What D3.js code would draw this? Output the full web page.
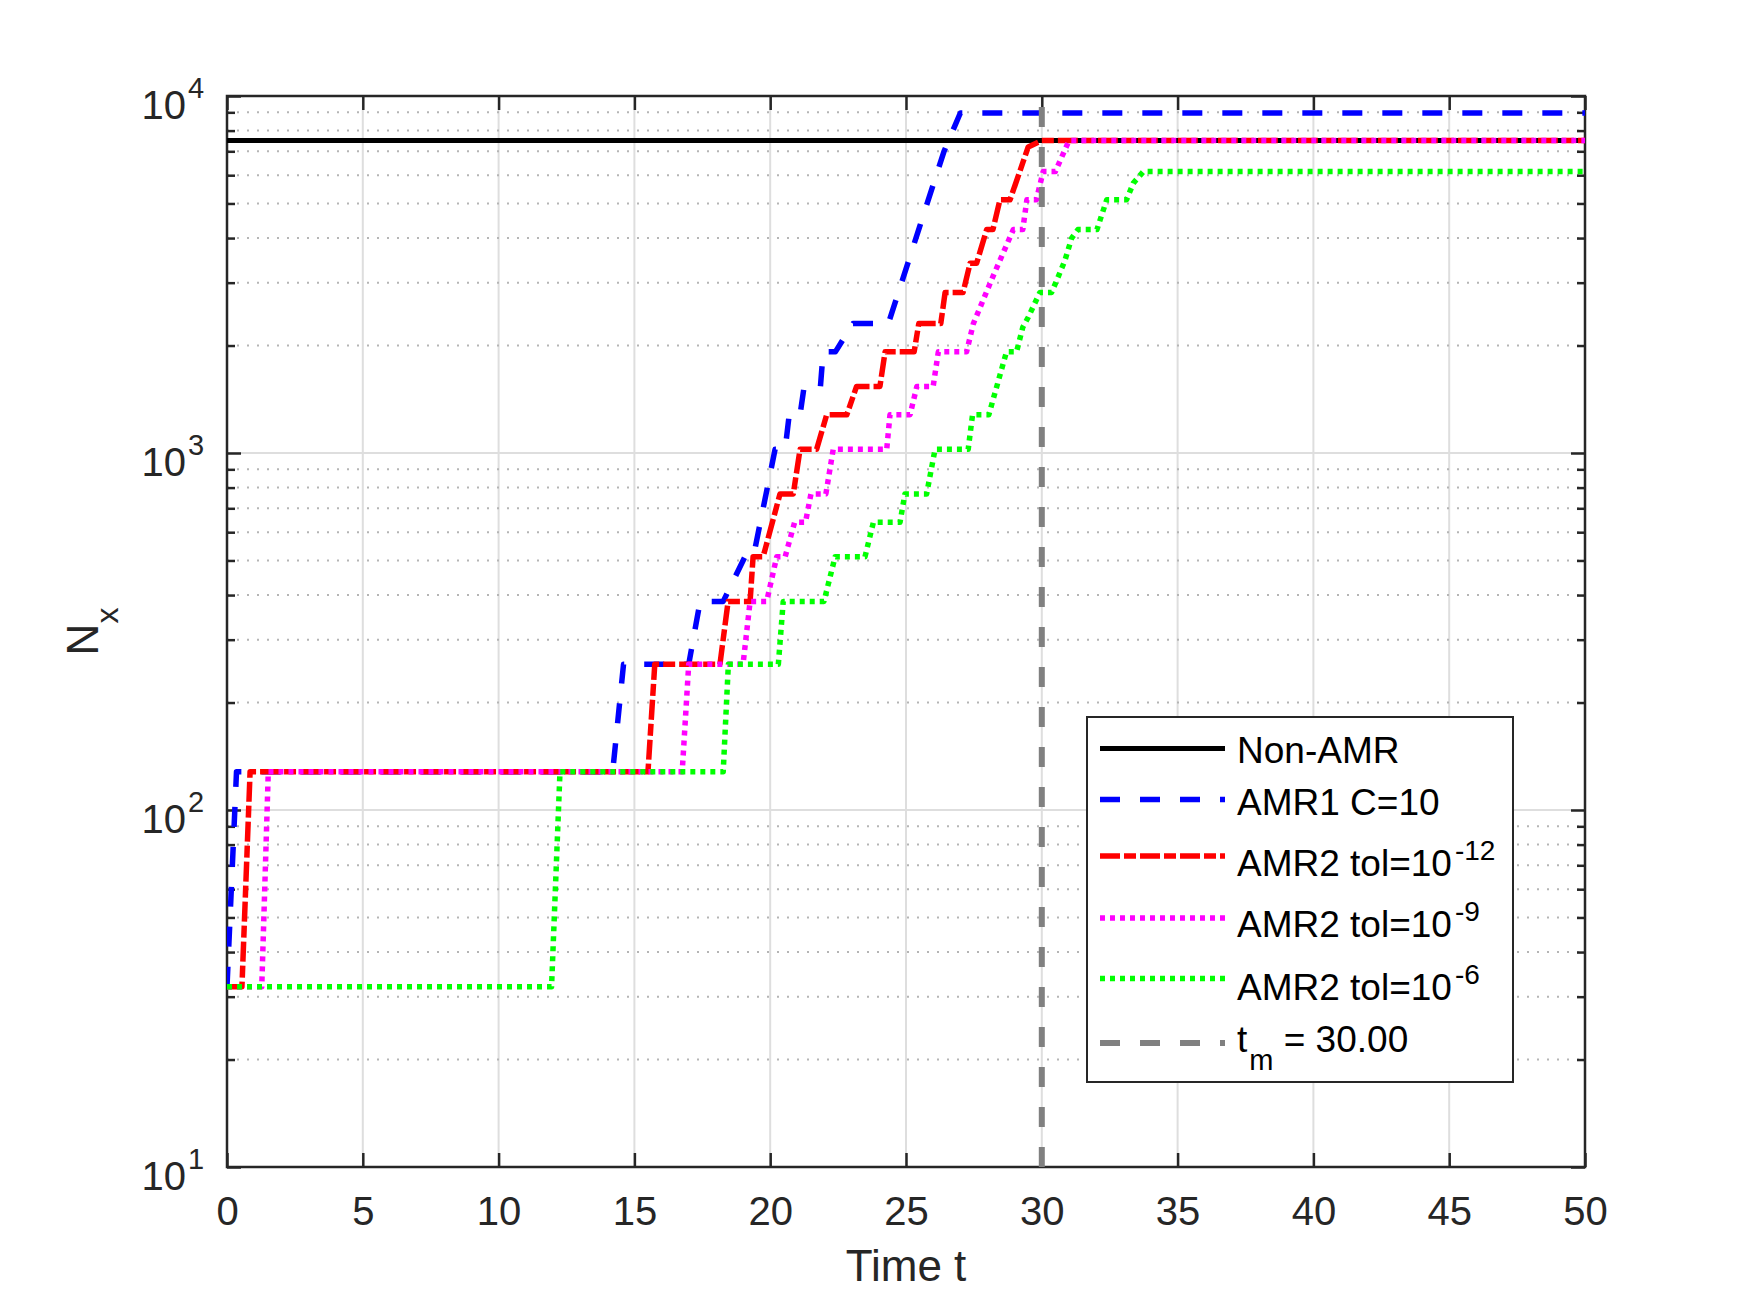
<!DOCTYPE html>
<meta charset="utf-8">
<head>
  <title>Nx vs time</title>
  <script src="https://cdn.jsdelivr.net/npm/d3@7"></script>
  <style>
    body { margin: 0; background: #fff; }
    svg { display: block; font-family: "Liberation Sans", Arial, sans-serif; }
  </style>
</head>
<body>
<div id="chart"></div>
<script>

// ---- data ----
var tNonAmr = [0, 50];
var nNonAmr = [7500, 7500];

var tAmr1 = [0, 0.35, 14.2, 14.6, 17.0, 17.42, 18.27, 19.07, 19.38, 20.18, 20.55, 20.7, 21.1, 21.25, 21.85, 21.95, 22.4, 23.05, 24.35, 25.5, 26.4, 27.0, 50];
var nAmr1 = [32, 128, 128, 256, 256, 384, 384, 512, 512, 1024, 1024, 1280, 1280, 1536, 1536, 1920, 1920, 2304, 2304, 4300, 7000, 8960, 8960];

var tTol12 = [0, 0.55, 0.85, 15.5, 15.75, 18.15, 18.45, 19.26, 19.37, 19.74, 20.36, 20.85, 21.1, 21.71, 22.08, 22.82, 23.18, 24.04, 24.23, 25.3, 25.47, 26.28, 26.44, 27.1, 27.36, 27.6, 27.97, 28.2, 28.46, 28.83, 29.5, 30.0, 50];
var nTol12 = [32, 32, 128, 128, 256, 256, 384, 384, 512, 512, 768, 768, 1024, 1024, 1280, 1280, 1536, 1536, 1920, 1920, 2304, 2304, 2816, 2816, 3400, 3400, 4224, 4224, 5120, 5120, 7200, 7500, 7500];

var tTol9 = [0, 1.28, 1.52, 16.76, 17.0, 19.0, 19.26, 19.87, 20.24, 20.55, 20.9, 21.3, 21.5, 22.05, 22.32, 24.29, 24.41, 25.15, 25.4, 26.0, 26.19, 27.23, 27.48, 28.2, 28.95, 29.3, 29.45, 29.8, 30.05, 30.5, 31.0, 50];
var nTol9 = [32, 32, 128, 128, 256, 256, 384, 384, 512, 512, 640, 640, 768, 768, 1024, 1024, 1280, 1280, 1536, 1536, 1920, 1920, 2304, 3120, 4224, 4224, 5120, 5120, 6144, 6144, 7500, 7500];

var tTol6 = [0, 11.95, 12.26, 18.27, 18.46, 20.3, 20.48, 21.98, 22.39, 23.49, 23.8, 24.78, 24.96, 25.76, 26.07, 27.29, 27.45, 28.05, 28.7, 29.07, 29.3, 29.5, 29.93, 30.36, 30.6, 30.85, 31.1, 31.33, 32.03, 32.39, 33.12, 33.37, 33.74, 50];
var nTol6 = [32, 32, 128, 128, 256, 256, 384, 384, 512, 512, 640, 640, 768, 768, 1024, 1024, 1280, 1280, 1920, 1920, 2250, 2400, 2816, 2816, 3110, 3460, 4000, 4224, 4224, 5120, 5120, 5700, 6144, 6144];

var tMerge = 30;

var xTicks = [0, 5, 10, 15, 20, 25, 30, 35, 40, 45, 50];
var yMajor = [10, 100, 1000, 10000];
var yMinor = [20, 30, 40, 50, 60, 70, 80, 90, 200, 300, 400, 500, 600, 700, 800, 900,
              2000, 3000, 4000, 5000, 6000, 7000, 8000, 9000];

var seriesNames = ["Non-AMR", "AMR1 C=10", "AMR2 tol=10", "AMR2 tol=10", "AMR2 tol=10", "t"];
var seriesSup = ["", "", "-12", "-9", "-6", ""];

// ---- layout ----
var margin = {top: 96, right: 165, bottom: 122, left: 227},
    width = 1750 - margin.left - margin.right,
    height = 1289 - margin.top - margin.bottom;

var svg = d3.select("#chart")
  .append("svg")
    .attr("width", 1750)
    .attr("height", 1289);

var g = svg.append("g")
    .attr("transform", "translate(" + margin.left + "," + margin.top + ")");

var x = d3.scaleLinear().domain([0, 50]).range([0, width]);
var y = d3.scaleLog().domain([10, 10000]).range([height, 0]);

var axisColor = "#262626";

// grid
g.selectAll(".vgrid")
  .data(xTicks.slice(1, -1))
  .enter().append("line")
    .attr("x1", d => x(d)).attr("x2", d => x(d))
    .attr("y1", 0).attr("y2", height)
    .attr("stroke", "#dedede").attr("stroke-width", 2);

g.selectAll(".hminor")
  .data(yMinor)
  .enter().append("line")
    .attr("x1", 0).attr("x2", width)
    .attr("y1", d => y(d)).attr("y2", d => y(d))
    .attr("stroke", "#b5b5b5").attr("stroke-width", 2)
    .attr("stroke-dasharray", "2,8");

g.selectAll(".hgrid")
  .data(yMajor.slice(1, -1))
  .enter().append("line")
    .attr("x1", 0).attr("x2", width)
    .attr("y1", d => y(d)).attr("y2", d => y(d))
    .attr("stroke", "#dedede").attr("stroke-width", 2);

// axes (ticks inward)
function styleAxis(sel) {
  sel.select(".domain").remove();
  sel.selectAll(".tick line").attr("stroke", axisColor).attr("stroke-width", 2.5);
  sel.selectAll(".tick text").attr("fill", axisColor);
}

g.append("g")
  .attr("transform", "translate(0," + height + ")")
  .call(d3.axisBottom(x).tickValues(xTicks).tickSize(-14).tickPadding(30).tickFormat(d3.format("d")))
  .call(styleAxis)
  .selectAll(".tick text")
    .style("font-size", "40px")
    .style("font-family", "Liberation Sans, Arial, sans-serif");

g.append("g")
  .call(d3.axisTop(x).tickValues(xTicks).tickSize(-14).tickFormat(""))
  .call(styleAxis);

g.append("g")
  .call(d3.axisLeft(y).tickValues(yMajor).tickSize(-14).tickFormat(""))
  .call(styleAxis);
g.append("g")
  .call(d3.axisLeft(y).tickValues(yMinor).tickSize(-8).tickFormat(""))
  .call(styleAxis);
g.append("g")
  .attr("transform", "translate(" + width + ",0)")
  .call(d3.axisRight(y).tickValues(yMajor).tickSize(-14).tickFormat(""))
  .call(styleAxis);
g.append("g")
  .attr("transform", "translate(" + width + ",0)")
  .call(d3.axisRight(y).tickValues(yMinor).tickSize(-8).tickFormat(""))
  .call(styleAxis);

// y tick labels 10^k
var yLab = g.selectAll(".ylab")
  .data(yMajor)
  .enter().append("g")
    .attr("transform", d => "translate(0," + y(d) + ")");
yLab.append("text")
  .attr("x", -41).attr("y", 23)
  .attr("text-anchor", "end")
  .attr("fill", axisColor)
  .style("font-size", "40px")
  .text("10");
yLab.append("text")
  .attr("x", -39).attr("y", 2)
  .attr("fill", axisColor)
  .style("font-size", "29px")
  .text(d => Math.round(Math.log10(d)));

// box
g.append("rect")
  .attr("x", 0).attr("y", 0)
  .attr("width", width).attr("height", height)
  .attr("fill", "none")
  .attr("stroke", axisColor)
  .attr("stroke-width", 2.5);

// axis labels
svg.append("text")
  .attr("x", margin.left + width / 2)
  .attr("y", 1281)
  .attr("text-anchor", "middle")
  .attr("fill", axisColor)
  .style("font-size", "44px")
  .text("Time t");

var ylabel = svg.append("text")
  .attr("transform", "translate(98," + (margin.top + height / 2) + ")rotate(-90)")
  .attr("text-anchor", "middle")
  .attr("fill", axisColor)
  .style("font-size", "44px");
ylabel.append("tspan").text("N");
ylabel.append("tspan").attr("dy", 20).style("font-size", "32px").text("x");

// data lines
g.append("clipPath").attr("id", "plotclip")
  .append("rect").attr("width", width).attr("height", height);

var line = d3.line()
  .x(d => x(d[0]))
  .y(d => y(d[1]));

var styles = [
  {color: "#000000", dash: null,          w: 5},
  {color: "#0000ff", dash: "20,20",       w: 5.5},
  {color: "#ff0000", dash: "20,4,12,4",   w: 5.5},
  {color: "#ff00ff", dash: "5,5",         w: 5.5},
  {color: "#00ff00", dash: "5,5",         w: 5.5},
  {color: "#808080", dash: "20,20",       w: 6}
];

var seriesData = [
  d3.zip(tNonAmr, nNonAmr),
  d3.zip(tAmr1, nAmr1),
  d3.zip(tTol12, nTol12),
  d3.zip(tTol9, nTol9),
  d3.zip(tTol6, nTol6)
];

var plot = g.append("g").attr("clip-path", "url(#plotclip)");

seriesData.forEach(function(s, i) {
  plot.append("path")
    .datum(s)
    .attr("d", line)
    .attr("fill", "none")
    .attr("stroke", styles[i].color)
    .attr("stroke-width", styles[i].w)
    .attr("stroke-linejoin", "round")
    .attr("stroke-dasharray", styles[i].dash);
});

// merge time marker
plot.append("line")
  .attr("x1", x(tMerge)).attr("x2", x(tMerge))
  .attr("y1", y(10)).attr("y2", y(10000))
  .attr("stroke", styles[5].color)
  .attr("stroke-width", styles[5].w)
  .attr("stroke-dasharray", styles[5].dash);

// legend
var leg = svg.append("g").attr("transform", "translate(1087,717)");
leg.append("rect")
  .attr("width", 426).attr("height", 365)
  .attr("fill", "#fff")
  .attr("stroke", axisColor)
  .attr("stroke-width", 2);

var rowY = [31.5, 82.5, 139, 201, 261.5, 326];
var textDy = [14.5, 15, 20, 19, 21, 8.5];

seriesNames.forEach(function(name, i) {
  leg.append("line")
    .attr("x1", 13).attr("x2", 138)
    .attr("y1", rowY[i]).attr("y2", rowY[i])
    .attr("stroke", styles[i].color)
    .attr("stroke-width", styles[i].w)
    .attr("stroke-dasharray", styles[i].dash);
  var t = leg.append("text")
    .attr("x", 150).attr("y", rowY[i] + textDy[i])
    .attr("fill", "#000")
    .style("font-size", "37px");
  t.append("tspan").text(name);
  if (seriesSup[i]) {
    t.append("tspan").attr("dx", 3).attr("dy", -16).style("font-size", "28px").text(seriesSup[i]);
  }
  if (i === 5) {
    t.append("tspan").attr("dx", 2).attr("dy", 18).style("font-size", "29px").text("m");
    t.append("tspan").attr("dy", -18).text(" = " + tMerge.toFixed(2));
  }
});

</script>
</body>
